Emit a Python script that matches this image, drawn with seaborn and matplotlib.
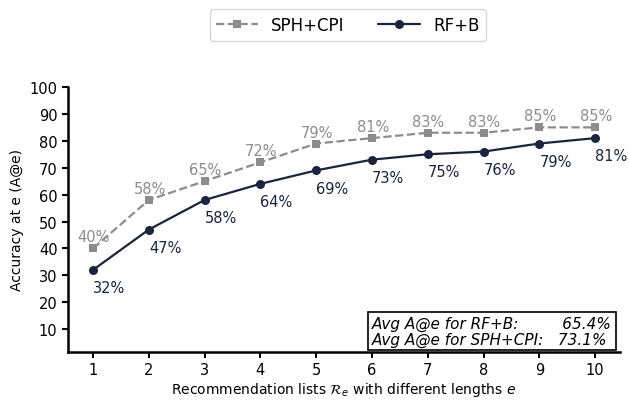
import matplotlib
matplotlib.use("Agg")
import matplotlib.pyplot as plt
import numpy as np
import pandas as pd
import seaborn as sns

lengths = [1, 2, 3, 4, 5, 6, 7, 8, 9, 10]
sph_cpi = [40, 58, 65, 72, 79, 81, 83, 83, 85, 85]
rf_b = [32, 47, 58, 64, 69, 73, 75, 76, 79, 81]
avg_rf_b = 65.4
avg_sph_cpi = 73.1

gray = "#8c8c8c"
navy = "#1b2340"

sns.set_style("ticks", {"text.color": "black", "axes.labelcolor": "black",
                        "xtick.color": "black", "ytick.color": "black",
                        "axes.edgecolor": "black"})
plt.rcParams["font.family"] = ["DejaVu Sans"]

df = pd.DataFrame({"e": lengths, "SPH+CPI": sph_cpi, "RF+B": rf_b})

fig = plt.figure(figsize=(6.29, 4.02), dpi=100)
ax = fig.add_axes([0.108, 0.122, 0.878, 0.659])

sns.lineplot(data=df, x="e", y="SPH+CPI", ax=ax, color=gray, marker="s",
             markersize=6, markeredgewidth=0, linestyle="--", lw=1.6,
             label="SPH+CPI", legend=False)
sns.lineplot(data=df, x="e", y="RF+B", ax=ax, color=navy, marker="o",
             markersize=6.5, markeredgewidth=0, lw=1.6, label="RF+B",
             legend=False)

for x, y in zip(lengths, sph_cpi):
    ax.annotate(f"{y}%", (x, y), xytext=(-11, 5), textcoords="offset points",
                color=gray, fontsize=10.5)
for x, y in zip(lengths, rf_b):
    ax.annotate(f"{y}%", (x, y), xytext=(0, -16), textcoords="offset points",
                color=navy, fontsize=10.5)

ax.set_xlim(0.55, 10.45)
ax.set_ylim(1.5, 100)
ax.set_xticks(lengths)
ax.set_yticks(range(10, 101, 10))
ax.tick_params(labelsize=10.5, width=1.5, length=4)
for side in ["left", "bottom"]:
    ax.spines[side].set_linewidth(1.8)
sns.despine(ax=ax)
ax.set_xlabel(r"Recommendation lists $\mathcal{R}_e$ with different lengths $e$",
              fontsize=10, labelpad=2)
ax.set_ylabel("Accuracy at e (A@e)", fontsize=10)

handles, labels = ax.get_legend_handles_labels()
fig.legend(handles, labels, loc="upper center", bbox_to_anchor=(0.553, 0.995),
           ncol=2, fontsize=12, frameon=True, handlelength=2.5,
           columnspacing=2.0)

txt = (f"Avg A@e for RF+B:         {avg_rf_b}%\n"
       f"Avg A@e for SPH+CPI:   {avg_sph_cpi}%")
ax.text(0.985, 0.02, txt, transform=ax.transAxes, ha="right", va="bottom",
        multialignment="left", fontsize=11, style="italic", linespacing=1.05,
        bbox=dict(boxstyle="square,pad=0.25", fc="white", ec="black", lw=1.2))

fig.savefig("out.png", dpi=100)
